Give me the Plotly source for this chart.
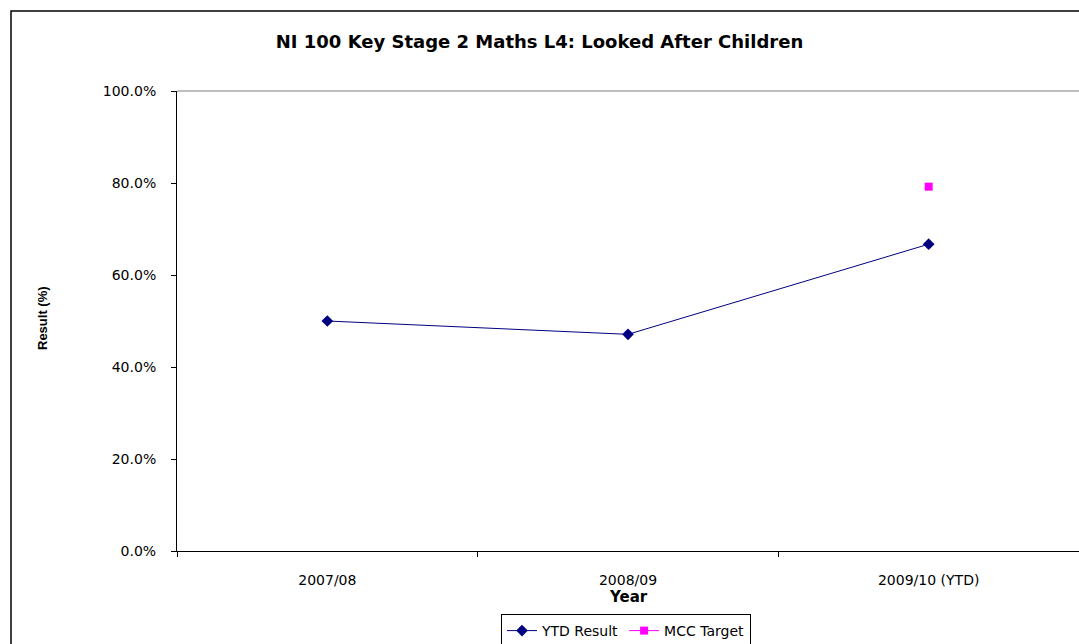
import plotly.graph_objects as go

years = ["2007/08", "2008/09", "2009/10 (YTD)"]
ytd_result = [50.0, 47.1, 66.7]
mcc_target = [None, None, 79.2]
y_ticks = [0, 20, 40, 60, 80, 100]
y_tick_text = ["0.0%", "20.0%", "40.0%", "60.0%", "80.0%", "100.0%"]

W, H = 1079, 644
L, R, T, B = 177, 0, 91, 93
pw = W - L - R
ph = H - T - B

fig = go.Figure()
fig.add_trace(go.Scatter(
    x=years, y=ytd_result, name="YTD Result", mode="lines+markers",
    line=dict(color="#000080", width=1),
    marker=dict(symbol="diamond", size=9, color="#000080"),
))
fig.add_trace(go.Scatter(
    x=years, y=mcc_target, name="MCC Target", mode="lines+markers",
    line=dict(color="#FF00FF", width=1),
    marker=dict(symbol="square", size=8, color="#FF00FF"),
))

font = "DejaVu Sans, Liberation Sans, Arial, sans-serif"


def px_x(x):
    return (x - L) / pw


def px_y(y):
    return (T + ph - y) / ph


fig.update_layout(
    width=W, height=H,
    margin=dict(l=L, r=R, t=T, b=B, pad=0, autoexpand=False),
    paper_bgcolor="white", plot_bgcolor="white",
    font=dict(family=font, size=14, color="black"),
    title=dict(text="<b>NI 100 Key Stage 2 Maths L4: Looked After Children</b>",
               x=0.5, xanchor="center", y=1 - 42 / H, yanchor="middle",
               font=dict(size=18, family=font)),
    showlegend=True,
    legend=dict(orientation="h", x=px_x(626), xanchor="center",
                y=px_y(614), yanchor="top",
                bordercolor="black", borderwidth=1, bgcolor="white",
                font=dict(size=14), tracegroupgap=0),
    xaxis=dict(
        type="category", range=[-0.5, 2.5],
        showline=True, linecolor="black", linewidth=1, mirror=False,
        ticks="outside", tickson="boundaries", ticklen=5, tickcolor="black",
        ticklabelstandoff=16,
        showgrid=False, zeroline=False,
    ),
    yaxis=dict(
        range=[0, 100], tickvals=y_ticks, ticktext=y_tick_text,
        showline=True, linecolor="black", linewidth=1,
        ticks="outside", ticklen=5, tickcolor="black",
        ticklabelstandoff=12,
        showgrid=False, zeroline=False,
    ),
    annotations=[
        dict(text="<b>Year</b>", xref="paper", yref="paper",
             x=px_x(628), y=px_y(597), xanchor="center", yanchor="middle",
             showarrow=False, font=dict(size=15, family=font)),
        dict(text="<b>Result (%)</b>", xref="paper", yref="paper",
             x=px_x(42), y=px_y(318), xanchor="center", yanchor="middle",
             textangle=-90, showarrow=False,
             font=dict(size=13, family="Liberation Sans, Arial")),
    ],
)

# plot area top border (gray)
fig.add_shape(type="line", xref="paper", yref="paper", x0=0, x1=1, y0=1, y1=1,
              line=dict(color="#808080", width=1))
# outer chart border
fig.add_shape(type="rect", xref="paper", yref="paper",
              x0=px_x(11), x1=px_x(W + 5),
              y0=px_y(H + 5), y1=px_y(11),
              line=dict(color="black", width=1.5), fillcolor="rgba(0,0,0,0)", layer="below")

fig.write_html("out.html", config={"displayModeBar": False},
               post_script="document.body.style.margin='0';document.body.style.overflow='hidden';")
